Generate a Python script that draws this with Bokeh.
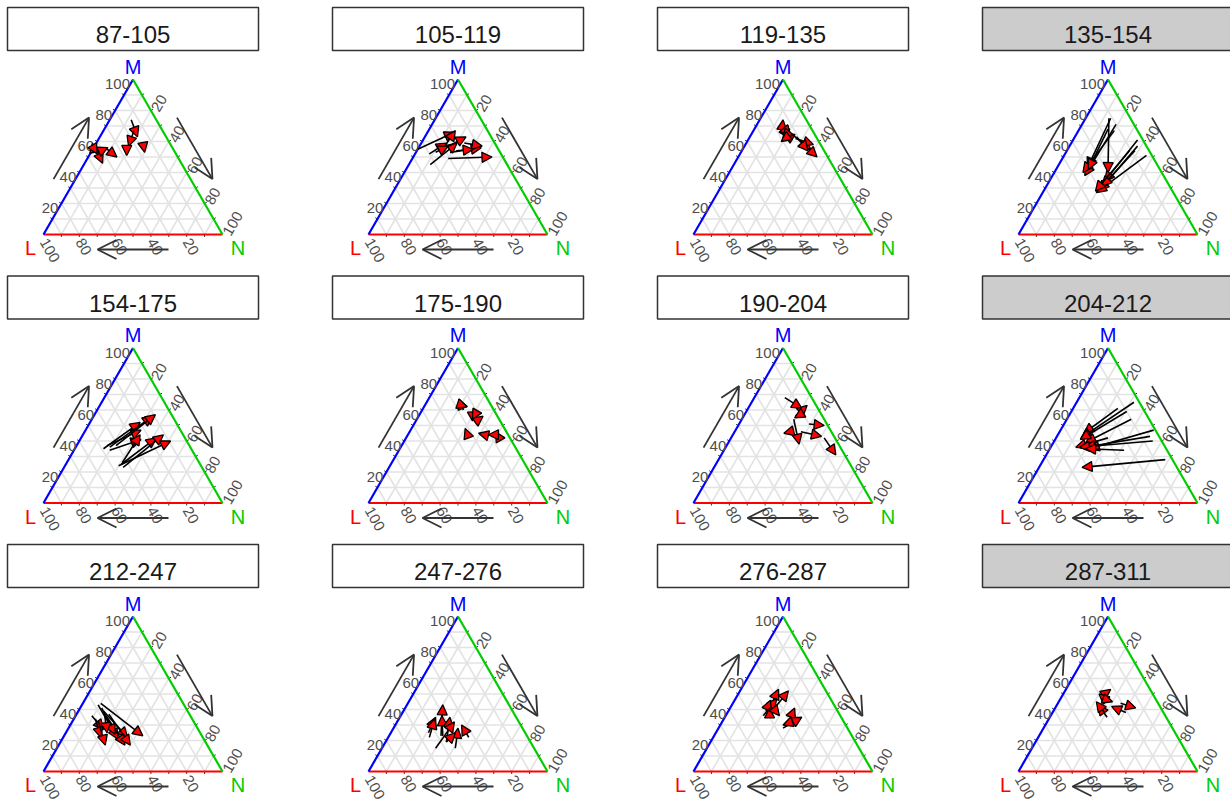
import math
from bokeh.plotting import figure
from bokeh.models import Range1d, Arrow, NormalHead, OpenHead, ColumnDataSource
from bokeh.core.properties import value
from bokeh.embed import file_html
from bokeh.resources import INLINE

# ---------------- data ----------------
titles = ["87-105", "105-119", "119-135", "135-154",
          "154-175", "175-190", "190-204", "204-212",
          "212-247", "247-276", "276-287", "287-311"]
shaded = ["135-154", "204-212", "287-311"]
axis_ticks = [20, 40, 60, 80, 100]
grid_steps = [10, 20, 30, 40, 50, 60, 70, 80, 90]

# each arrow: (L, M, N) in percent, start -> end
p01_start = [(14, 74, 12), (16, 67, 17), (15, 59, 26), (25, 57, 18), (37, 55, 8),
             (44, 55, 1), (43, 54, 3), (41, 54, 5), (44, 54, 2)]
p01_end = [(16, 63, 21), (24, 57, 19), (17, 53, 30), (28, 51, 21), (34, 50, 16),
           (41, 54, 5), (44, 46, 10), (36, 56, 8), (44, 52, 4)]

p02_start = [(45, 55, 0), (40, 52, 8), (43, 45, 12), (31, 49, 20), (28, 53, 19),
             (17, 59, 24), (33, 54, 13), (31, 55, 14), (36, 53, 11), (24, 54, 22)]
p02_end = [(19, 66, 15), (27, 59, 14), (21, 59, 20), (6, 50, 44), (9, 56, 35),
           (8, 57, 35), (14, 63, 23), (18, 67, 15), (27, 57, 16), (14, 55, 31)]

p03_start = [(16, 69, 15), (17, 65, 18), (12, 68, 20), (15, 63, 22), (18, 66, 16),
             (16, 63, 21), (13, 65, 22), (12, 62, 26), (10, 60, 30), (11, 63, 26)]
p03_end = [(13, 74, 13), (12, 70, 18), (19, 66, 15), (17, 65, 18), (12, 64, 24),
           (21, 60, 19), (7, 55, 38), (4, 58, 38), (6, 50, 44), (9, 54, 37)]

p04_start = [(11, 75, 14), (10, 71, 19), (13, 67, 20), (16, 68, 16), (12, 75, 13),
             (3, 61, 36), (5, 57, 38), (3, 51, 46), (8, 54, 38), (11, 54, 35)]
p04_end = [(40, 43, 17), (44, 38, 18), (44, 40, 16), (40, 42, 18), (30, 40, 30),
           (35, 34, 31), (41, 28, 31), (43, 27, 30), (38, 31, 31), (43, 28, 29)]

p05_start = [(49, 35, 16), (46, 37, 17), (46, 34, 20), (45, 36, 19), (41, 37, 22),
             (44, 25, 31), (44, 23, 33), (46, 24, 30), (43, 26, 31)]
p05_end = [(20, 52, 28), (22, 47, 31), (25, 41, 34), (11, 56, 33), (9, 57, 34),
           (16, 42, 42), (11, 44, 45), (9, 40, 51), (24, 44, 32)]

p06_start = [(17, 60, 23), (16, 63, 21), (13, 57, 30), (13, 53, 34), (10, 59, 31),
             (23, 42, 35), (13, 44, 43), (6, 41, 53), (6, 44, 50)]
p06_end = [(16, 67, 17), (14, 62, 24), (9, 59, 32), (8, 56, 36), (15, 54, 31),
           (22, 48, 30), (16, 45, 39), (6, 46, 48), (11, 44, 45)]

p07_start = [(15, 68, 17), (15, 56, 29), (12, 57, 31), (17, 54, 29), (23, 46, 31),
             (17, 46, 37), (10, 51, 39), (6, 42, 52)]
p07_end = [(9, 61, 30), (5, 63, 32), (16, 55, 29), (22, 38, 40), (27, 45, 28),
           (7, 43, 50), (2, 50, 48), (5, 31, 64)]

p08_start = [(14, 61, 25), (3, 65, 32), (10, 54, 36), (29, 42, 29), (1, 47, 52),
             (5, 43, 52), (5, 40, 55), (24, 34, 42), (4, 28, 68), (10, 59, 31)]
p08_end = [(41, 45, 14), (44, 42, 14), (43, 39, 18), (50, 36, 14), (43, 35, 22),
           (45, 36, 19), (48, 36, 16), (45, 35, 20), (53, 23, 24), (45, 41, 14)]

p09_start = [(46, 44, 10), (48, 43, 9), (55, 36, 9), (54, 34, 12), (47, 39, 14),
             (47, 36, 17), (47, 41, 12), (45, 37, 18), (53, 33, 14), (47, 38, 15)]
p09_end = [(33, 23, 44), (48, 21, 31), (53, 27, 20), (57, 22, 21), (42, 22, 36),
           (46, 17, 37), (48, 24, 28), (43, 17, 40), (57, 17, 26), (52, 25, 23)]

p10_start = [(48, 23, 29), (54, 25, 21), (55, 22, 23), (47, 23, 30), (47, 19, 34),
             (55, 15, 30), (44, 15, 41), (33, 22, 45), (47, 19, 34)]
p10_end = [(37, 43, 20), (45, 35, 20), (46, 34, 20), (41, 36, 23), (37, 35, 28),
           (36, 32, 32), (36, 28, 36), (33, 30, 37), (39, 25, 36)]

p11_start = [(35, 43, 22), (33, 42, 25), (43, 36, 21), (40, 39, 21), (40, 35, 25),
             (35, 41, 24), (29, 34, 37), (36, 28, 36), (29, 32, 39)]
p11_end = [(26, 53, 21), (21, 52, 27), (30, 47, 23), (34, 46, 20), (37, 41, 22),
           (34, 36, 30), (23, 41, 36), (22, 35, 43), (35, 30, 35)]

p12_start = [(27, 50, 23), (28, 46, 26), (33, 35, 32), (33, 38, 29), (21, 44, 35),
             (21, 38, 41), (29, 47, 24)]
p12_end = [(22, 53, 25), (30, 50, 20), (34, 43, 23), (34, 45, 21), (14, 41, 45),
           (27, 42, 31), (25, 45, 30)]

starts = [p01_start, p02_start, p03_start, p04_start, p05_start, p06_start,
          p07_start, p08_start, p09_start, p10_start, p11_start, p12_start]
ends = [p01_end, p02_end, p03_end, p04_end, p05_end, p06_end,
        p07_end, p08_end, p09_end, p10_end, p11_end, p12_end]

# ---------------- layout ----------------
FONT = value("Liberation Sans")
W = 179.0
H = W * math.sqrt(3) / 2.0
COL_X = [43.0, 368.0, 693.0, 1018.0]
ROW_Y = [234.0, 502.5, 771.0]
RED, BLUE, GREEN = "#FF0000", "#0000FF", "#00CD00"
S3 = math.sqrt(3) / 2.0


def tern(pt, c, r):
    L, M, N = pt
    s = float(L + M + N)
    m, n = M / s, N / s
    return COL_X[c] + W * (n + m / 2.0), ROW_Y[r] - H * m


p = figure(width=1230, height=805, x_range=Range1d(0, 1230), y_range=Range1d(805, 0),
           output_backend="svg", toolbar_location=None, min_border=0,
           x_axis_type=None, y_axis_type=None)
p.outline_line_color = None
p.background_fill_color = "white"
p.border_fill_color = "white"

gx, gy = [], []
ex0, ey0, ex1, ey1, ecol = [], [], [], [], []
tx0, ty0, tx1, ty1 = [], [], [], []
lab = {"left": ([], [], []), "right": ([], [], []), "bottom": ([], [], [])}
vert = ([], [], [], [])
strip = ([], [], [], [], [])
stxt = ([], [], [])
ax0, ay0, ax1, ay1 = [], [], [], []
dx0, dy0, dx1, dy1 = [], [], [], []

for i, title in enumerate(titles):
    r, c = divmod(i, 4)
    # grid
    for v in grid_steps:
        for a, b in [((100 - v, v, 0), (0, v, 100 - v)),
                     ((100 - v, 0, v), (0, 100 - v, v)),
                     ((v, 100 - v, 0), (v, 0, 100 - v))]:
            xa, ya = tern(a, c, r)
            xb, yb = tern(b, c, r)
            gx.append([xa, xb])
            gy.append([ya, yb])
    PL = tern((100, 0, 0), c, r)
    PM = tern((0, 100, 0), c, r)
    PN = tern((0, 0, 100), c, r)
    for a, b, col in [(PL, PN, RED), (PL, PM, BLUE), (PM, PN, GREEN)]:
        ex0.append(a[0]); ey0.append(a[1]); ex1.append(b[0]); ey1.append(b[1]); ecol.append(col)
    # ticks
    for v in grid_steps:
        for pt, nrm in [((100 - v, v, 0), (-S3, -0.5)), ((0, 100 - v, v), (S3, -0.5)),
                        ((v, 0, 100 - v), (0.0, 1.0))]:
            x, y = tern(pt, c, r)
            tx0.append(x); ty0.append(y); tx1.append(x + 2.5 * nrm[0]); ty1.append(y + 2.5 * nrm[1])
    # tick labels
    for v in axis_ticks:
        x, y = tern((100 - v, v, 0), c, r)
        lab["left"][0].append(x - 3); lab["left"][1].append(y + 5); lab["left"][2].append(str(v))
        x, y = tern((0, 100 - v, v), c, r)
        lab["right"][0].append(x + 4); lab["right"][1].append(y); lab["right"][2].append(str(v))
        x, y = tern((v, 0, 100 - v), c, r)
        lab["bottom"][0].append(x); lab["bottom"][1].append(y + 5); lab["bottom"][2].append(str(v))
    # vertex labels (centres)
    for (x, y), t, col in [((PM[0], PM[1] - 12.5), "M", BLUE), ((PL[0] - 13, PL[1] + 13.5), "L", RED),
                           ((PN[0] + 15.5, PN[1] + 13.5), "N", GREEN)]:
        vert[0].append(x); vert[1].append(y); vert[2].append(t); vert[3].append(col)
    # direction arrows
    for P0, P1, off, a0, a1 in [(PL, PM, 19, 53, 124), (PM, PN, 19, 55, 126), (PN, PL, 15, 54, 125)]:
        ux, uy = (P1[0] - P0[0]) / W, (P1[1] - P0[1]) / W
        nx, ny = uy, -ux  # outward normal
        ax0.append(P0[0] + ux * a0 + nx * off); ay0.append(P0[1] + uy * a0 + ny * off)
        ax1.append(P0[0] + ux * a1 + nx * off); ay1.append(P0[1] + uy * a1 + ny * off)
    # strips
    left = PL[0] - 36
    top = PL[1] - 227
    strip[0].append(left); strip[1].append(left + 251); strip[2].append(top); strip[3].append(top + 43)
    strip[4].append("#CCCCCC" if title in shaded else "white")
    stxt[0].append(PL[0] + 89.5); stxt[1].append(PL[1] - 200); stxt[2].append(title)
    # data arrows
    for s, e in zip(starts[i], ends[i]):
        xs, ys = tern(s, c, r)
        xe, ye = tern(e, c, r)
        dx0.append(xs); dy0.append(ys); dx1.append(xe); dy1.append(ye)

p.multi_line(gx, gy, line_color="#E3E3E3", line_width=1.6)
p.segment(tx0, ty0, tx1, ty1, line_color="#333333", line_width=1)
p.segment(ex0, ey0, ex1, ey1, line_color=ecol, line_width=2.2)

lbl_style = dict(text_font=FONT, text_font_size="15px", text_color="#4D4D4D", text_baseline="middle")
p.text(lab["left"][0], lab["left"][1], text=lab["left"][2], text_align="right", **lbl_style)
p.text(lab["right"][0], lab["right"][1], text=lab["right"][2], text_align="left",
       angle=math.radians(60), **lbl_style)
p.text(lab["bottom"][0], lab["bottom"][1], text=lab["bottom"][2], text_align="left",
       angle=math.radians(-60), **lbl_style)

p.text(vert[0], vert[1], text=vert[2], text_color=vert[3], text_font=FONT,
       text_font_size="20px", text_align="center", text_baseline="middle")

p.quad(left=strip[0], right=strip[1], top=strip[2], bottom=strip[3], fill_color=strip[4],
       line_color="#333333", line_width=1.5)
p.text(stxt[0], stxt[1], text=stxt[2], text_font=FONT, text_font_size="24px",
       text_color="#1A1A1A", text_align="center", text_baseline="middle")

dir_src = ColumnDataSource(dict(x0=ax0, y0=ay0, x1=ax1, y1=ay1))
p.add_layout(Arrow(end=OpenHead(size=19, line_color="#333333", line_width=1.8),
                   source=dir_src, x_start="x0", y_start="y0", x_end="x1", y_end="y1",
                   line_color="#333333", line_width=1.8))

data_src = ColumnDataSource(dict(x0=dx0, y0=dy0, x1=dx1, y1=dy1))
p.add_layout(Arrow(end=NormalHead(size=10, fill_color="red", line_color="black", line_width=1.3),
                   source=data_src, x_start="x0", y_start="y0", x_end="x1", y_end="y1",
                   line_color="black", line_width=1.6))

open("out.html", "w").write(file_html(p, INLINE))
